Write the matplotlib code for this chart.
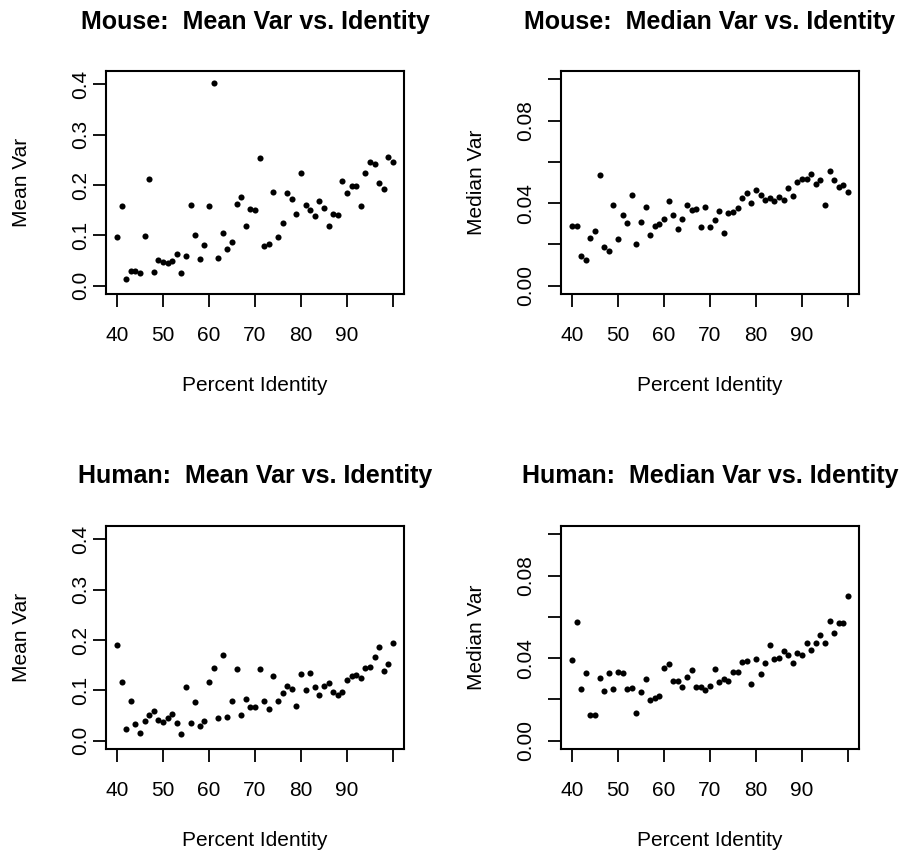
import matplotlib
matplotlib.use("Agg")
import matplotlib.pyplot as plt
import numpy as np

plt.rcParams['font.family'] = ['Liberation Sans', 'DejaVu Sans']

# percent identity, one point per integer value
identity = list(range(40, 101))

mouse_mean = [0.097, 0.158, 0.014, 0.030, 0.030, 0.026, 0.099, 0.212, 0.028, 0.052,
              0.048, 0.045, 0.049, 0.063, 0.026, 0.059, 0.160, 0.100, 0.053, 0.080,
              0.158, 0.402, 0.055, 0.105, 0.072, 0.087, 0.162, 0.177, 0.119, 0.152,
              0.150, 0.254, 0.078, 0.083, 0.187, 0.096, 0.125, 0.185, 0.172, 0.143,
              0.223, 0.160, 0.150, 0.138, 0.168, 0.154, 0.119, 0.143, 0.141, 0.208,
              0.185, 0.199, 0.199, 0.158, 0.223, 0.246, 0.241, 0.205, 0.193, 0.255,
              0.246]

mouse_median = [0.0289, 0.0289, 0.0145, 0.0124, 0.0231, 0.0265, 0.0537, 0.0189, 0.0169, 0.0389,
                0.0224, 0.0344, 0.0306, 0.0440, 0.0202, 0.0308, 0.0379, 0.0247, 0.0289, 0.0300,
                0.0323, 0.0411, 0.0344, 0.0277, 0.0324, 0.0390, 0.0368, 0.0374, 0.0285, 0.0382,
                0.0284, 0.0318, 0.0361, 0.0255, 0.0353, 0.0356, 0.0376, 0.0427, 0.0450, 0.0400,
                0.0466, 0.0439, 0.0413, 0.0427, 0.0411, 0.0431, 0.0416, 0.0473, 0.0435, 0.0502,
                0.0516, 0.0515, 0.0542, 0.0494, 0.0510, 0.0390, 0.0558, 0.0510, 0.0477, 0.0489,
                0.0456]

human_mean = [0.191, 0.117, 0.024, 0.079, 0.034, 0.015, 0.039, 0.051, 0.059, 0.042,
              0.037, 0.046, 0.054, 0.036, 0.013, 0.107, 0.036, 0.077, 0.029, 0.040,
              0.117, 0.144, 0.046, 0.170, 0.048, 0.079, 0.142, 0.052, 0.082, 0.067,
              0.067, 0.142, 0.078, 0.063, 0.129, 0.079, 0.094, 0.109, 0.103, 0.069,
              0.132, 0.101, 0.135, 0.106, 0.090, 0.109, 0.114, 0.096, 0.091, 0.096,
              0.121, 0.128, 0.130, 0.124, 0.145, 0.147, 0.166, 0.187, 0.139, 0.153,
              0.195]

human_median = [0.0389, 0.0574, 0.0250, 0.0327, 0.0124, 0.0124, 0.0306, 0.0239, 0.0327, 0.0253,
                0.0334, 0.0326, 0.0250, 0.0256, 0.0132, 0.0235, 0.0300, 0.0195, 0.0205, 0.0218,
                0.0353, 0.0373, 0.0290, 0.0290, 0.0258, 0.0310, 0.0342, 0.0258, 0.0261, 0.0247,
                0.0265, 0.0348, 0.0284, 0.0297, 0.0290, 0.0334, 0.0334, 0.0379, 0.0385, 0.0274,
                0.0397, 0.0324, 0.0376, 0.0465, 0.0398, 0.0402, 0.0434, 0.0416, 0.0376, 0.0426,
                0.0415, 0.0473, 0.0440, 0.0471, 0.0510, 0.0471, 0.0579, 0.0521, 0.0569, 0.0569,
                0.0703]

x_ticks = [40, 50, 60, 70, 80, 90, 100]
x_ticklabels = ['40', '50', '60', '70', '80', '90', '']
mean_ticks = [0.0, 0.1, 0.2, 0.3, 0.4]
mean_ticklabels = ['0.0', '0.1', '0.2', '0.3', '0.4']
median_ticks = [0.00, 0.02, 0.04, 0.06, 0.08, 0.10]
median_ticklabels = ['0.00', '', '0.04', '', '0.08', '']

W, H = 904, 850
fig = plt.figure(figsize=(W / 100, H / 100), dpi=100)


def make_axes(left, top):
    # pixel box -> figure fraction
    return fig.add_axes([left / W, (H - top - 223) / H, 298 / W, 223 / H])


panels = [
    (106, 71, mouse_mean, 'Mouse:  Mean Var vs. Identity', 'Mean Var', 'mean', 2, 30),
    (561, 71, mouse_median, 'Mouse:  Median Var vs. Identity', 'Median Var', 'median', 9, 30),
    (106, 526, human_mean, 'Human:  Mean Var vs. Identity', 'Mean Var', 'mean', 2, 31),
    (561, 526, human_median, 'Human:  Median Var vs. Identity', 'Median Var', 'median', 9, 31),
]

for left, top, vals, title, ylab, kind, ypad, tpad in panels:
    ax = make_axes(left, top)
    ax.plot(identity, vals, 'o', color='black', markersize=4.4, markeredgewidth=0)
    ax.set_xlim(37.6, 102.4)
    ax.set_xticks(x_ticks)
    ax.set_xticklabels(x_ticklabels)
    if kind == 'mean':
        ax.set_ylim(-0.0164, 0.4264)
        ax.set_yticks(mean_ticks)
        ax.set_yticklabels(mean_ticklabels)
    else:
        ax.set_ylim(-0.004, 0.104)
        ax.set_yticks(median_ticks)
        ax.set_yticklabels(median_ticklabels)
    for sp in ax.spines.values():
        sp.set_linewidth(1.5)
    ax.tick_params(axis='both', length=9.4, width=1.3, labelsize=15, color='black')
    ax.tick_params(axis='x', pad=13.5)
    ax.tick_params(axis='y', pad=ypad, labelrotation=90)
    for lab in ax.get_yticklabels():
        lab.set_verticalalignment('center')
    ax.set_title(title, fontsize=18, fontweight='bold', pad=tpad)
    ax.set_xlabel('Percent Identity', fontsize=15)
    ax.set_ylabel(ylab, fontsize=15)
    ax.xaxis.set_label_coords(0.5, -0.368)
    ax.yaxis.set_label_coords(-0.2517, 0.5)

fig.savefig('out.png', dpi=100)
